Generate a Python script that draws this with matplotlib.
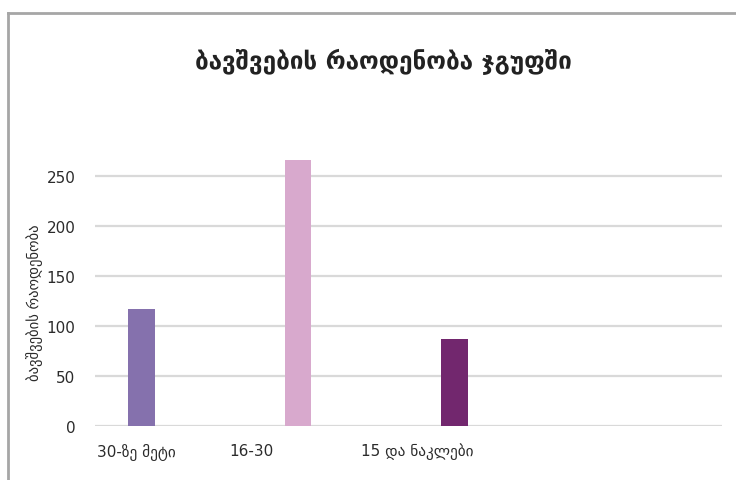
import matplotlib
matplotlib.use('Agg')
import matplotlib.pyplot as plt
from matplotlib.lines import Line2D

plt.rcParams['font.family'] = ['DejaVu Sans']

# data
categories = ['30-ზე მეტი', '16-30', '15 და ნაკლები', '']
counts = [117, 266, 87, None]
bar_colors = ['#8571ad', '#d8a9cd', '#72276e']
yticks = [0, 50, 100, 150, 200, 250]

fig = plt.figure(figsize=(7.36, 4.81), dpi=100)
fig.patch.set_facecolor('white')

# outer chart frame (only top and left edges are visible in the crop)
top_y = 1 - 13.5 / 481
left_x = 7.5 / 736
fig.lines.append(Line2D([left_x, 1.0], [top_y, top_y], transform=fig.transFigure,
                        color='#a6a6a6', linewidth=2))
fig.lines.append(Line2D([left_x, left_x], [0, top_y], transform=fig.transFigure,
                        color='#a6a6a6', linewidth=2))

ax = fig.add_axes([95 / 736, 54 / 481, 627 / 736, 270 / 481])

for i, (v, c) in enumerate(zip(counts, bar_colors)):
    ax.bar(i - 0.205, v, width=0.17, color=c, zorder=3)

ax.set_xlim(-0.5, len(categories) - 0.5)
ax.set_ylim(0, 270)
ax.set_yticks(yticks)
ax.yaxis.grid(True, color='#d9d9d9', linewidth=1.6, zorder=0)
ax.tick_params(axis='y', length=0, labelsize=11, pad=14, labelcolor='#2b2b2b')

# category labels (left aligned, as in the original)
label_x = [-0.487, 0.359, 1.199]
ax.set_xticks(label_x)
ax.set_xticklabels(categories[:3], ha='left', fontsize=11, color='#2b2b2b')
ax.tick_params(axis='x', length=0, pad=12)

for s in ax.spines.values():
    s.set_visible(False)

ax.set_ylabel('ბავშვების რაოდენობა', fontsize=10.5, color='#2b2b2b')
ax.yaxis.set_label_coords(-0.083, 0.46)

fig.text(383 / 736, 1 - 62 / 481, 'ბავშვების რაოდენობა ჯგუფში',
         ha='center', va='center', fontsize=17.5, fontweight='bold', color='#222222')

fig.savefig('out.png', dpi=100, facecolor='white')
